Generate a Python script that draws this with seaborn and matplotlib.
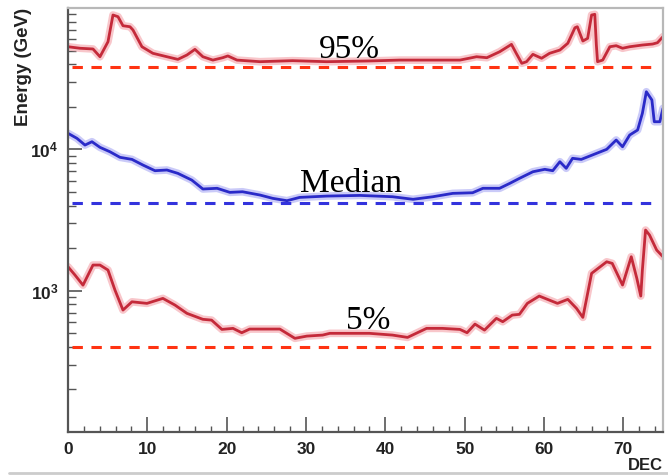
import numpy as np
import pandas as pd
import matplotlib
matplotlib.use("Agg")
import matplotlib.pyplot as plt
import seaborn as sns
from matplotlib.ticker import MultipleLocator, LogLocator, NullFormatter, FixedLocator
from matplotlib.lines import Line2D

# ---------------- data ----------------
dec_p95 = [0.0, 1.5, 3.15, 4.03, 5.04, 5.67, 6.30, 6.93, 7.81, 8.19, 9.32, 10.7, 12.47, 13.85, 14.99,
           16.0, 17.0, 18.26, 19.5, 20.15, 21.3, 24.2, 28.3, 32.6, 38.0, 41.8, 49.4, 51.5, 52.8, 54.4,
           55.9, 56.5, 57.2, 57.8, 58.6, 59.7, 60.7, 62.0, 63.0, 63.9, 64.2, 64.9, 65.5, 66.0, 66.4,
           66.6, 66.75, 67.4, 68.3, 69.1, 69.9, 70.8, 72.4, 73.7, 74.3, 75.0]
e_p95 = [53200, 51900, 51300, 45200, 57700, 89200, 86800, 74900, 73700, 69900, 53200, 47800, 45200, 43300, 46500,
         51000, 45200, 42800, 44500, 45800, 42800, 41700, 42400, 41700, 42200, 42800, 42800, 45200, 44500, 49000,
         55300, 47800, 40600, 41700, 47000, 44100, 47800, 50400, 56300, 72500, 73700, 58400, 61000, 89200, 90200,
         54700, 41700, 42800, 53200, 54100, 51900, 53200, 54700, 55600, 56800, 62700]

dec_med = [0.0, 1.13, 2.14, 3.02, 4.03, 5.29, 6.55, 8.06, 9.45, 10.96, 12.47, 13.85, 15.6, 17.0, 18.8,
           20.4, 22.0, 24.2, 25.8, 27.6, 29.2, 32.6, 36.8, 40.9, 43.5, 46.0, 48.5, 51.0, 52.3, 54.4,
           55.7, 56.9, 58.6, 60.1, 61.1, 62.0, 62.8, 63.6, 64.7, 66.1, 67.9, 69.1, 69.9, 70.8, 71.8,
           72.4, 72.9, 73.6, 73.9, 74.6, 75.0]
e_med = [12980, 11960, 10720, 11320, 10330, 9610, 8780, 8490, 7740, 7060, 7140, 6760, 6060, 5240, 5300,
         4960, 5010, 4750, 4500, 4330, 4570, 4670, 4720, 4620, 4430, 4620, 4880, 4930, 5300, 5300,
         5750, 6230, 6940, 7220, 7060, 8170, 7340, 8640, 8490, 9120, 10000, 11640, 10430, 12620, 13700,
         17980, 25560, 22330, 15680, 15680, 19500]

dec_p05 = [0.0, 0.88, 1.89, 3.15, 4.03, 5.04, 5.92, 6.93, 8.06, 9.95, 11.96, 13.48, 14.99, 17.0, 18.1,
           19.4, 20.8, 21.9, 22.9, 26.7, 28.6, 30.1, 32.1, 33.0, 38.0, 40.9, 42.8, 45.2, 47.2, 49.4,
           50.3, 51.3, 52.5, 54.0, 54.8, 56.0, 56.9, 57.9, 59.4, 61.7, 63.0, 64.1, 64.9, 66.0, 67.9,
           68.6, 69.9, 71.0, 71.7, 72.2, 72.4, 72.8, 73.3, 74.2, 75.0]
e_p05 = [1476, 1290, 1094, 1518, 1518, 1399, 1010, 729, 834, 813, 882, 791, 691, 627, 619,
         532, 541, 504, 535, 535, 460, 477, 485, 499, 499, 485, 467, 541, 541, 532,
         504, 580, 526, 637, 603, 672, 680, 813, 916, 813, 868, 749, 647, 1326, 1601,
         1560, 1096, 1738, 1222, 916, 1399, 2685, 2475, 1938, 1738]

ref_labels = ["95%", "Median", "5%"]
ref_levels = [38400, 4190, 397]

xtick_vals = [0, 10, 20, 30, 40, 50, 60, 70]
ytick_vals = [1e3, 1e4]
ytick_labels = [r"$\mathbf{10^{3}}$", r"$\mathbf{10^{4}}$"]

# ---------------- style ----------------
sns.set_style("ticks")
plt.rcParams["font.family"] = ["Liberation Sans", "DejaVu Sans"]
plt.rcParams["mathtext.fontset"] = "custom"
plt.rcParams["mathtext.rm"] = "Liberation Sans:bold"
plt.rcParams["mathtext.bf"] = "Liberation Sans:bold"
plt.rcParams["mathtext.it"] = "Liberation Sans:bold"

fig = plt.figure(figsize=(6.68, 4.76), dpi=100)
ax = fig.add_axes([68 / 668, 1 - 432 / 476, (663 - 68) / 668, (432 - 8) / 476])
ax.set_yscale("log")

red_core, red_halo = "#c42a3a", "#f4a0a8"
blue_core, blue_halo = "#2a2ac8", "#a8a8f4"

curves = [
    (dec_p95, e_p95, red_core, red_halo),
    (dec_med, e_med, blue_core, blue_halo),
    (dec_p05, e_p05, red_core, red_halo),
]
for xs, ys, core, halo in curves:
    df = pd.DataFrame({"DEC": xs, "E": ys})
    sns.lineplot(data=df, x="DEC", y="E", ax=ax, color=halo, lw=5.5, alpha=0.6,
                 estimator=None, sort=False, solid_joinstyle="round", solid_capstyle="round")
    sns.lineplot(data=df, x="DEC", y="E", ax=ax, color=core, lw=2.0,
                 estimator=None, sort=False, solid_joinstyle="round", solid_capstyle="round")

dash_colors = ["#ff3312", "#3333dd", "#ff3312"]
for lvl, col in zip(ref_levels, dash_colors):
    ax.axhline(lvl, xmin=0.006, xmax=0.993, color=col, lw=2.2,
               dashes=(3.4, 2.8), dash_capstyle="butt")

# text labels
label_pos = [(0.473, 0.882), (0.475, 0.567), (0.505, 0.243)]
for txt, (px, py) in zip(ref_labels, label_pos):
    ax.text(px, py, txt, transform=ax.transAxes, ha="center", va="baseline",
            fontsize=24, family="Liberation Serif", color="black")

# axes limits / ticks
ax.set_xlim(0, 75)
ax.set_ylim(100, 1e5)
ax.xaxis.set_major_locator(FixedLocator(xtick_vals))
ax.xaxis.set_minor_locator(MultipleLocator(2))
ax.set_xticks(xtick_vals)
ax.set_xticklabels([str(v) for v in xtick_vals])
ax.set_yticks(ytick_vals)
ax.set_yticklabels(ytick_labels)
ax.yaxis.set_minor_locator(LogLocator(base=10, subs=np.arange(2, 10)))
ax.yaxis.set_minor_formatter(NullFormatter())

for lab in ax.get_xticklabels():
    lab.set_fontweight("bold")

ax.tick_params(axis="both", which="both", direction="in", color="#555555",
               labelcolor="#222222", labelsize=12.5, top=False, right=False)
ax.tick_params(axis="y", which="major", length=10, width=1.2, pad=7)
ax.tick_params(axis="y", which="minor", length=6, width=1.0)
ax.tick_params(axis="x", which="major", length=11, width=1.2, pad=7)
ax.tick_params(axis="x", which="minor", length=4, width=1.0)

for side in ["left", "bottom"]:
    ax.spines[side].set_color("#555555")
    ax.spines[side].set_linewidth(1.6)
for side in ["top", "right"]:
    ax.spines[side].set_visible(True)
    ax.spines[side].set_color("#b8b8b8")
    ax.spines[side].set_linewidth(1.6)

ax.set_ylabel("Energy (GeV)", fontweight="bold", fontsize=13.5, loc="top", color="#222222")
ax.yaxis.set_label_coords(-0.061, 1.0)
ax.set_xlabel("DEC", fontweight="bold", fontsize=12, loc="right", color="#222222")
ax.xaxis.set_label_coords(1.0, -0.062)

fig.add_artist(Line2D([0.013, 1.0], [0.006, 0.006], transform=fig.transFigure,
                      color="#cccccc", lw=2))

fig.savefig("out.png", dpi=100)
